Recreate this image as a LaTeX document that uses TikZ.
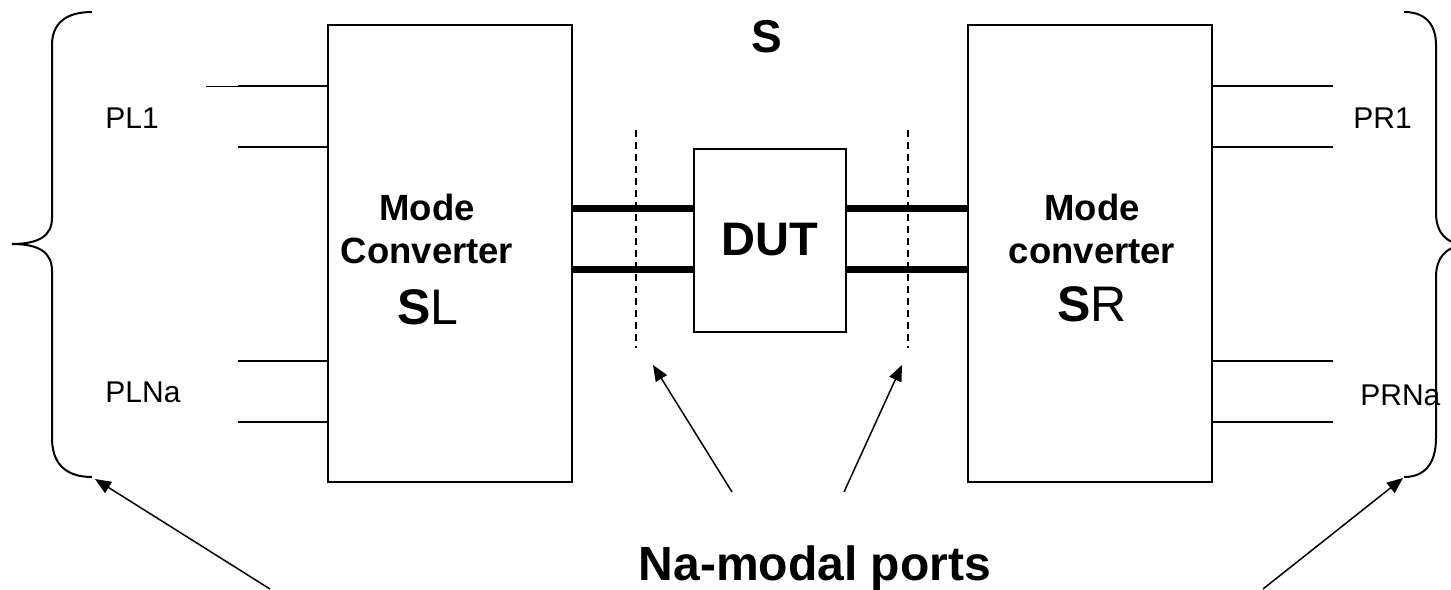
\documentclass[tikz,border=0pt]{standalone}
\usepackage{fontspec}
\setmainfont{Liberation Sans}
\usetikzlibrary{arrows.meta}
\begin{document}
\begin{tikzpicture}[x=0.5pt, y=-0.5pt,
  boite/.style={draw, line width=1pt, inner sep=0pt},
  port/.style={line width=1pt},
  bus/.style={line width=3.5pt},
  coupe/.style={line width=0.75pt, dash pattern=on 3.5pt off 2.5pt},
  fleche/.style={line width=0.75pt, -{Triangle[length=8pt, width=6.5pt]}},
  accolade/.style={line width=1pt},
  lbl/.style={inner sep=0pt, font=\fontsize{15}{18}\selectfont},
  titre/.style={inner sep=0pt, font=\bfseries\fontsize{18.25}{22}\selectfont}]

% Cadre
\useasboundingbox (0,0) rectangle (1451,589);

% Blocs
\node[boite, minimum width=122pt, minimum height=228.5pt] (convL) at (450,253.5) {};
\node[boite, minimum width=122pt, minimum height=228.5pt] (convR) at (1090,253.5) {};
\node[boite, minimum width=76pt, minimum height=91.5pt,
  font=\bfseries\fontsize{23.5}{28}\selectfont] (dut) at (770,240) {DUT};

% Textes des convertisseurs
\node[titre, anchor=base] (modeL) at (427,220) {Mode};
\node[titre, anchor=base] (nomL) at (427,263) {Converter};
\node[inner sep=0pt, anchor=base, font=\fontsize{25}{30}\selectfont] (sL) at (428,324) {\textbf{S}L};
\node[titre, anchor=base] (modeR) at (1092,220) {Mode};
\node[titre, anchor=base] (nomR) at (1092,263) {converter};
\node[inner sep=0pt, anchor=base, font=\fontsize{25}{30}\selectfont] (sR) at (1092,321) {\textbf{S}R};
\node[inner sep=0pt, anchor=base, font=\bfseries\fontsize{23}{28}\selectfont] (stot) at (767,53) {S};

% Ports a gauche
\foreach \y in {86,147,361,422}
  \draw[port] (convL.west |- 0,\y) -- (238,\y);
\draw[line width=0.5pt] (238,86) -- (206,86);
\node[lbl, anchor=base west] (pl1) at (105,128) {PL1};
\node[lbl, anchor=base west] (plna) at (105,402) {PLNa};

% Ports a droite
\foreach \y in {86,147,361,422}
  \draw[port] (convR.east |- 0,\y) -- (1333,\y);
\node[lbl, anchor=base west] (pr1) at (1353,128) {PR1};
\node[lbl, anchor=base west] (prna) at (1360,405) {PRNa};

% Liaisons vers le DUT
\foreach \y in {208,269} {
  \draw[bus] (convL.east |- 0,\y) -- (dut.west |- 0,\y);
  \draw[bus] (dut.east |- 0,\y) -- (convR.west |- 0,\y);
}

% Plans de reference
\draw[coupe] (636,130) -- (636,348);
\draw[coupe] (908,130) -- (908,348);

% Accolades
\draw[accolade] (92,12) .. controls (64,12) and (52,25) .. (52,45) -- (52,218)
  .. controls (52,235) and (40,244) .. (12,244)
  .. controls (40,244) and (52,253) .. (52,271) -- (52,438)
  .. controls (52,462) and (64,477) .. (92,477);
\draw[accolade] (1404,12) .. controls (1426,12) and (1436,25) .. (1436,45) -- (1436,213)
  .. controls (1436,232) and (1446,245) .. (1468,245)
  .. controls (1446,245) and (1436,258) .. (1436,277) -- (1436,438)
  .. controls (1436,462) and (1426,477) .. (1404,477);

% Legende et fleches
\node[inner sep=0pt, anchor=base, font=\bfseries\fontsize{24}{29}\selectfont] (modal) at (815,580) {Na-modal ports};
\coordinate (cpl) at (95,479);
\coordinate (cpr) at (1403,478);
\coordinate (cdl) at (653,365);
\coordinate (cdr) at (902,365);
\draw[fleche] (270,589) -- (cpl);
\draw[fleche] (1263,589) -- (cpr);
\draw[fleche] (732,492) -- (cdl);
\draw[fleche] (844,492) -- (cdr);

\end{tikzpicture}
\end{document}
